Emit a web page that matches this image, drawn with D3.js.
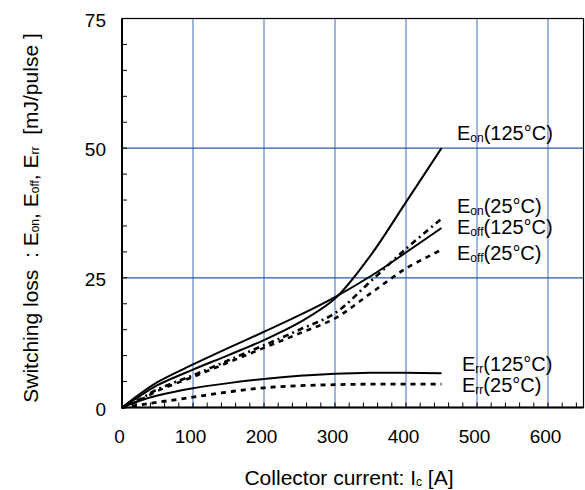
<!DOCTYPE html>
<html>
<head>
<meta charset="utf-8">
<script src="https://cdn.jsdelivr.net/npm/d3@7/dist/d3.min.js"></script>
<style>
  body { margin: 0; background: #fff; }
  svg text { font-family: "Liberation Sans", Arial, sans-serif; fill: #000; }
</style>
</head>
<body>
<svg id="chart" width="585" height="490"></svg>
<script>
// ---- data ----
const current = [0, 25, 50, 100, 150, 200, 250, 300, 350, 400, 450];
const eon125  = [0, 2.2, 4.3, 7.3, 10.1, 13.0, 16.4, 21.0, 29.3, 39.6, 50.0];
const eon25   = [0, 1.6, 3.5, 6.2, 9.1, 12.0, 15.0, 18.2, 24.3, 30.6, 36.4];
const eoff125 = [0, 2.6, 4.9, 8.3, 11.5, 14.6, 17.8, 21.3, 25.3, 29.9, 34.6];
const eoff25  = [0, 1.4, 3.2, 5.9, 8.7, 11.5, 14.3, 17.2, 22.0, 26.8, 30.4];
const err125  = [0, 1.3, 2.3, 3.7, 4.7, 5.5, 6.1, 6.5, 6.7, 6.7, 6.6];
const err25   = [0, 0.5, 1.0, 2.0, 3.0, 3.8, 4.2, 4.4, 4.5, 4.5, 4.5];
const xTicks = [0, 100, 200, 300, 400, 500, 600];
const yTicks = [0, 25, 50, 75];
const seriesNames = ["Eon125", "Eon25", "Eoff125", "Eoff25", "Err125", "Err25"];
const labelMain = ["E", "E", "E", "E", "E", "E"];
const labelSub  = ["on", "on", "off", "off", "rr", "rr"];
const labelTail = ["(125°C)", "(25°C)", "(125°C)", "(25°C)", "(125°C)", "(25°C)"];

const svg = d3.select("#chart");
const L = 122, R = 583.5, T = 18.5, B = 407.5;
const x = d3.scaleLinear().domain([0, 650]).range([L, R]);
const y = d3.scaleLinear().domain([0, 75]).range([B, T]);

// grid
svg.append("g").selectAll("line").data(xTicks.filter(d => d > 0)).join("line")
  .attr("x1", d => x(d)).attr("x2", d => x(d)).attr("y1", T).attr("y2", B)
  .attr("stroke", "#7f9cd4").attr("stroke-width", 1.5);
svg.append("g").selectAll("line").data([25, 50]).join("line")
  .attr("x1", L).attr("x2", R).attr("y1", d => y(d)).attr("y2", d => y(d))
  .attr("stroke", "#2d58a6").attr("stroke-width", 1.2);

// minor ticks
svg.append("g").selectAll("line").data(d3.range(20, 650, 20)).join("line")
  .attr("x1", d => x(d)).attr("x2", d => x(d)).attr("y1", B).attr("y2", B - 5)
  .attr("stroke", "#000").attr("stroke-width", 1);
svg.append("g").selectAll("line").data(d3.range(5, 75, 5)).join("line")
  .attr("x1", L).attr("x2", L + 5).attr("y1", d => y(d)).attr("y2", d => y(d))
  .attr("stroke", "#000").attr("stroke-width", 1);

// frame
svg.append("rect").attr("x", L).attr("y", T).attr("width", R - L).attr("height", B - T)
  .attr("fill", "none").attr("stroke", "#000").attr("stroke-width", 1.2);
svg.append("line").attr("x1", L).attr("x2", L).attr("y1", T).attr("y2", B + 1)
  .attr("stroke", "#000").attr("stroke-width", 2);
svg.append("line").attr("x1", L - 1).attr("x2", R).attr("y1", B).attr("y2", B)
  .attr("stroke", "#000").attr("stroke-width", 2);

// axes labels (D3 axes, domain hidden)
const xAxis = svg.append("g").attr("transform", `translate(0,${B})`)
  .call(d3.axisBottom(x).tickValues(xTicks).tickSize(0).tickPadding(22).tickFormat(d3.format("d")));
xAxis.select(".domain").remove();
xAxis.selectAll("text").attr("font-size", 19).attr("dx", -3)
  .style("font-family", "Liberation Sans, Arial, sans-serif");
const yAxis = svg.append("g").attr("transform", `translate(${L},0)`)
  .call(d3.axisLeft(y).tickValues(yTicks).tickSize(0).tickPadding(16).tickFormat(d3.format("d")));
yAxis.select(".domain").remove();
yAxis.selectAll("text").attr("font-size", 19).attr("dy", "0.4em")
  .style("font-family", "Liberation Sans, Arial, sans-serif");

// series
const allSeries = [eon125, eon25, eoff125, eoff25, err125, err25];
const dashes = [null, "6,4,2,4", null, "5,5", null, "5,5"];
const widths = [2, 2.6, 2, 2.6, 2, 2.8];
const line = d3.line().x((d, i) => x(current[i])).y(d => y(d)).curve(d3.curveCatmullRom.alpha(0.5));
allSeries.forEach((s, k) => {
  svg.append("path").datum(s).attr("d", line)
    .attr("fill", "none").attr("stroke", "#000")
    .attr("stroke-width", widths[k])
    .attr("stroke-dasharray", dashes[k]);
});

// series labels
const labelPos = [[457, 140], [457, 213], [457, 234], [457, 260], [462, 371], [462, 392]];
seriesNames.forEach((n, k) => {
  const t = svg.append("text").attr("x", labelPos[k][0]).attr("y", labelPos[k][1]).attr("font-size", 20);
  t.append("tspan").text(labelMain[k]);
  t.append("tspan").attr("font-size", 12).attr("dy", 2).text(labelSub[k]);
  t.append("tspan").attr("dy", -2).text(labelTail[k]);
});

// axis titles
const xt = svg.append("text").attr("x", 349).attr("y", 485).attr("text-anchor", "middle").attr("font-size", 21);
xt.append("tspan").text("Collector current: I");
xt.append("tspan").attr("font-size", 12).attr("dy", 1).text("c");
xt.append("tspan").attr("dy", -1).text(" [A]");

const yt = svg.append("text").attr("transform", "translate(38,218) rotate(-90)")
  .attr("text-anchor", "middle").attr("font-size", 21).attr("xml:space", "preserve");
yt.append("tspan").text("Switching loss  : E");
yt.append("tspan").attr("font-size", 12).attr("dy", 1).text("on");
yt.append("tspan").attr("dy", -1).text(", E");
yt.append("tspan").attr("font-size", 12).attr("dy", 1).text("off");
yt.append("tspan").attr("dy", -1).text(", E");
yt.append("tspan").attr("font-size", 12).attr("dy", 1).text("rr");
yt.append("tspan").attr("dy", -1).text("  [mJ/pulse ]");
</script>
</body>
</html>
